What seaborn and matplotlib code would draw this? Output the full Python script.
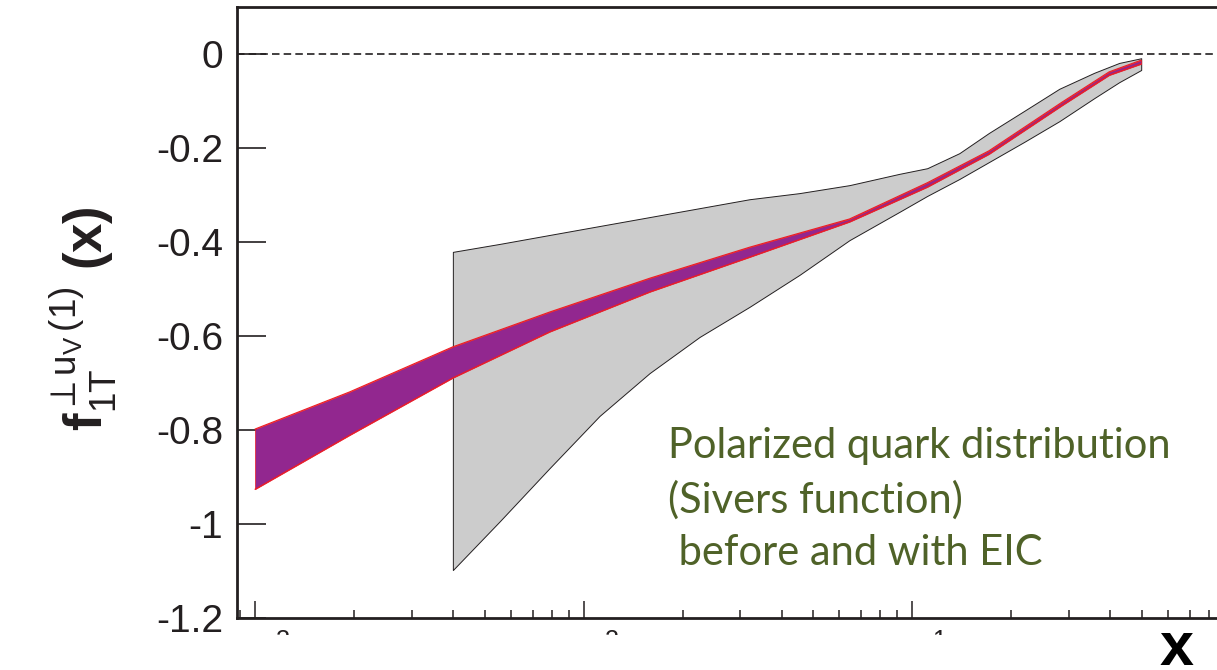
import numpy as np
import pandas as pd
import matplotlib
matplotlib.use("Agg")
import matplotlib.pyplot as plt
from matplotlib.patches import Rectangle
from matplotlib.ticker import LogLocator, NullFormatter, FixedLocator, FixedFormatter
import seaborn as sns

# ---- data ----
# "with EIC" band (purple)
eic_x = [0.0010, 0.00194, 0.0040, 0.00788, 0.0159, 0.0320, 0.0644, 0.111, 0.171, 0.286, 0.397, 0.497]
eic_upper = [-0.798, -0.719, -0.623, -0.549, -0.477, -0.411, -0.351, -0.274, -0.206, -0.102, -0.038, -0.013]
eic_lower = [-0.926, -0.811, -0.689, -0.591, -0.506, -0.432, -0.357, -0.283, -0.213, -0.109, -0.045, -0.021]

# "before EIC" band (gray)
pre_x = [0.0040, 0.00556, 0.00788, 0.01118, 0.01587, 0.02253, 0.03196, 0.04535, 0.0644,
         0.0913, 0.111, 0.139, 0.171, 0.219, 0.280, 0.3575, 0.426, 0.497]
pre_upper = [-0.421, -0.404, -0.385, -0.366, -0.347, -0.328, -0.309, -0.296, -0.279,
             -0.255, -0.243, -0.211, -0.168, -0.121, -0.074, -0.040, -0.019, -0.009]
pre_lower = [-1.098, -0.994, -0.881, -0.770, -0.679, -0.602, -0.538, -0.470, -0.396,
             -0.336, -0.302, -0.266, -0.230, -0.187, -0.143, -0.094, -0.060, -0.034]

x_ticks = [1e-3, 1e-2, 1e-1]
x_tick_labels = [r"$10^{-3}$", r"$10^{-2}$", r"$10^{-1}$"]
y_ticks = [0, -0.2, -0.4, -0.6, -0.8, -1.0, -1.2]
y_tick_labels = ["0", "-0.2", "-0.4", "-0.6", "-0.8", "-1", "-1.2"]
annotation = "Polarized quark distribution\n(Sivers function)\n before and with EIC"

# ---- style ----
sns.set_theme(style="ticks")
plt.rcParams["font.family"] = ["Liberation Sans", "DejaVu Sans"]
plt.rcParams["mathtext.fontset"] = "custom"
plt.rcParams["mathtext.rm"] = "Liberation Sans"
plt.rcParams["mathtext.it"] = "Liberation Sans"
plt.rcParams["mathtext.bf"] = "Liberation Sans:bold"

W, H = 1217, 670
fig = plt.figure(figsize=(W / 100, H / 100), dpi=100)
ax = fig.add_axes([237 / W, 52 / H, (1241 - 237) / W, 611 / H])

dark = "#231F20"
ax.fill_between(pre_x, pre_lower, pre_upper, facecolor="#CCCCCC",
                edgecolor=dark, linewidth=0.7, zorder=1)
ax.fill_between(eic_x, eic_lower, eic_upper, facecolor="#92278F",
                edgecolor="#ED1C24", linewidth=0.5, zorder=2)
edges = pd.DataFrame({"x": eic_x * 2,
                      "y": eic_upper + eic_lower,
                      "edge": ["upper"] * len(eic_x) + ["lower"] * len(eic_x)})
sns.lineplot(data=edges, x="x", y="y", units="edge", estimator=None, sort=False,
             color="#ED1C24", linewidth=0.8, ax=ax, zorder=3)

ax.axhline(0, color=dark, linewidth=1.2, linestyle=(0, (4.5, 2.5)), zorder=0)

ax.set_xscale("log")
ax.set_xlim(10 ** -3.0547, 1.0)
ax.set_ylim(-1.2, 0.1)

ax.yaxis.set_major_locator(FixedLocator(y_ticks))
ax.yaxis.set_major_formatter(FixedFormatter(y_tick_labels))
ax.xaxis.set_major_locator(FixedLocator(x_ticks))
ax.xaxis.set_major_formatter(FixedFormatter(x_tick_labels))
ax.xaxis.set_minor_locator(LogLocator(base=10, subs=np.arange(2, 10), numticks=20))
ax.xaxis.set_minor_formatter(NullFormatter())

ax.tick_params(axis="y", which="major", direction="in", length=21, width=1.2, left=True,
               color=dark, labelsize=28, pad=10, labelcolor=dark)
ax.tick_params(axis="x", which="major", direction="in", length=12, width=1.1, bottom=True,
               color=dark, labelsize=26, pad=12, labelcolor=dark)
ax.tick_params(axis="x", which="minor", direction="in", length=6, width=1.1, bottom=True,
               color=dark)

for s in ["left", "bottom", "top"]:
    ax.spines[s].set_linewidth(2.0)
    ax.spines[s].set_color(dark)
ax.spines["right"].set_visible(False)

ax.set_xlabel("")
ax.set_ylabel(r"$\mathbf{f}_{1T}^{\perp u_{V}\,(1)}\ \mathbf{(x)}$", fontsize=38, color=dark)
ax.yaxis.set_label_coords(-0.118, 0.49)

# white strip hiding the lower part of the x tick labels, as in the reference
fig.add_artist(Rectangle((0, 0), 1.0, 35 / H, transform=fig.transFigure,
                         facecolor="white", edgecolor="none", zorder=10))
fig.text(1177 / W, 1 - 665 / H, "x", fontsize=44, fontweight="bold",
         ha="center", va="baseline", color="black", zorder=11)

fig.text(668 / W, 1 - 427 / H, annotation, fontsize=30, color="#4F6228",
         family=["Lato", "DejaVu Sans"], ha="left", va="top", linespacing=1.46)

fig.savefig("out.png", dpi=100)
